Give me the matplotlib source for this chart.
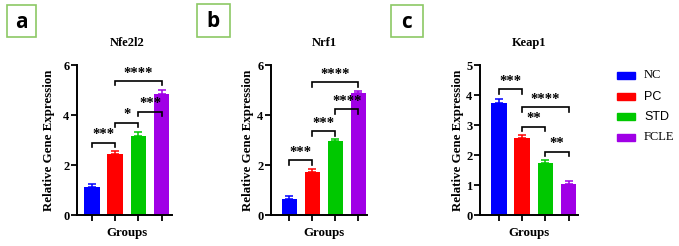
import matplotlib
matplotlib.use("Agg")
import matplotlib.pyplot as plt
from matplotlib.patches import Rectangle

plt.rcParams['font.family'] = ['Liberation Serif', 'DejaVu Serif']
plt.rcParams['font.weight'] = 'bold'

# ---------------- data ----------------
groups = ['NC', 'PC', 'STD', 'FCLE']
colors = ['#0000FF', '#FF0000', '#00C800', '#A000E6']

genes = ['Nfe2l2', 'Nrf1', 'Keap1']
nfe2l2_mean = [1.12, 2.43, 3.17, 4.84]
nfe2l2_err = [0.11, 0.15, 0.14, 0.15]
nrf1_mean = [0.63, 1.73, 2.95, 4.86]
nrf1_err = [0.12, 0.13, 0.11, 0.10]
keap1_mean = [3.74, 2.56, 1.72, 1.03]
keap1_err = [0.12, 0.11, 0.11, 0.10]

# significance brackets: (group i, group j, bracket height, label)
nfe2l2_sig = [(0, 1, 2.90, '***'), (1, 2, 3.70, '*'), (2, 3, 4.13, '***'), (1, 3, 5.36, '****')]
nrf1_sig = [(0, 1, 2.20, '***'), (1, 2, 3.36, '***'), (2, 3, 4.23, '****'), (1, 3, 5.31, '****')]
keap1_sig = [(0, 1, 4.19, '***'), (1, 3, 3.59, '****'), (1, 2, 2.94, '**'), (2, 3, 2.11, '**')]

y_max = [6, 6, 5]
y_ticks = [[0, 2, 4, 6], [0, 2, 4, 6], [0, 1, 2, 3, 4, 5]]
panel_letters = ['a', 'b', 'c']

# ---------------- layout (pixels) ----------------
W, H = 679, 246
fig = plt.figure(figsize=(W / 100, H / 100), dpi=100)


def fx(x):
    return x / W


def fy(y):
    return 1 - y / H


axes_px = [(77, 172), (271, 367), (480, 578)]
xlims = [(-0.65, 3.45), (-0.80, 3.38), (-0.82, 3.40)]
ax_top, ax_bot = 65, 215
title_x = [127, 324, 529]
ylabel_x = [49, 248, 458]
box_px = [(7, 5, 36, 37), (197, 4, 230, 37), (391, 5, 423, 37)]

means = [nfe2l2_mean, nrf1_mean, keap1_mean]
errs = [nfe2l2_err, nrf1_err, keap1_err]
sigs = [nfe2l2_sig, nrf1_sig, keap1_sig]

for k in range(3):
    l, r = axes_px[k]
    ax = fig.add_axes([fx(l), fy(ax_bot), (r - l) / W, (ax_bot - ax_top) / H])
    xs = list(range(len(groups)))
    ax.bar(xs, means[k], width=0.67, color=colors, zorder=2)
    for xi, m, e, c in zip(xs, means[k], errs[k], colors):
        ax.errorbar(xi, m, yerr=[[0], [e]], color=c, capsize=3.2,
                    elinewidth=1.1, capthick=1.1, zorder=1)
    ax.set_xlim(*xlims[k])
    ax.set_ylim(0, y_max[k])
    ax.set_yticks(y_ticks[k])
    ax.set_xticks(xs)
    ax.set_xticklabels([])
    for s in ['top', 'right']:
        ax.spines[s].set_visible(False)
    for s in ['left', 'bottom']:
        ax.spines[s].set_linewidth(1.4)
    ax.tick_params(axis='y', length=4, width=1.3, pad=1.5, labelsize=9)
    ax.tick_params(axis='x', length=4, width=1.3)
    for t in ax.get_yticklabels():
        t.set_fontweight('bold')

    pxu = (ax_bot - ax_top) / y_max[k]
    leg = 4.5 / pxu
    for (i, j, yb, lab) in sigs[k]:
        ax.plot([i, i, j, j], [yb - leg, yb, yb, yb - leg], color='black',
                lw=1.2, clip_on=False, zorder=3, solid_joinstyle='miter')
        ax.annotate(lab, xy=((i + j) / 2, yb), xytext=(0, 1.0),
                    textcoords='offset points', ha='center', va='bottom',
                    fontsize=10.5, fontweight='bold', annotation_clip=False)

    fig.text(fx(title_x[k]), fy(43), genes[k], ha='center', va='center',
             fontsize=9, fontweight='bold')
    fig.text(fx(title_x[k]), fy(233), 'Groups', ha='center', va='center',
             fontsize=9.3, fontweight='bold')
    fig.text(fx(ylabel_x[k]), fy(140), 'Relative Gene Expression', ha='center',
             va='center', rotation=90, fontsize=9.3, fontweight='bold')

    x0, y0, x1, y1 = box_px[k]
    fig.patches.append(Rectangle((fx(x0), fy(y1)), (x1 - x0) / W, (y1 - y0) / H,
                                 transform=fig.transFigure, fill=False,
                                 edgecolor='#8CC865', lw=1.2))
    fig.text(fx((x0 + x1) / 2), fy((y0 + y1) / 2 + 1), panel_letters[k],
             ha='center', va='center', fontsize=15, fontweight='bold',
             family=['Open Sans', 'DejaVu Sans'])

# legend
legend_rows = [75, 96.5, 117, 137]
legend_fonts = ['Liberation Serif', 'Liberation Sans', 'Liberation Sans', 'Liberation Serif']
for g, c, yr, fam in zip(groups, colors, legend_rows, legend_fonts):
    fig.patches.append(Rectangle((fx(617), fy(yr + 3.5)), 18 / W, 7 / H,
                                 transform=fig.transFigure, color=c))
    fig.text(fx(644), fy(yr), g, ha='left', va='center', fontsize=9,
             fontweight='normal', family=[fam])

fig.savefig('out.png', dpi=100)
